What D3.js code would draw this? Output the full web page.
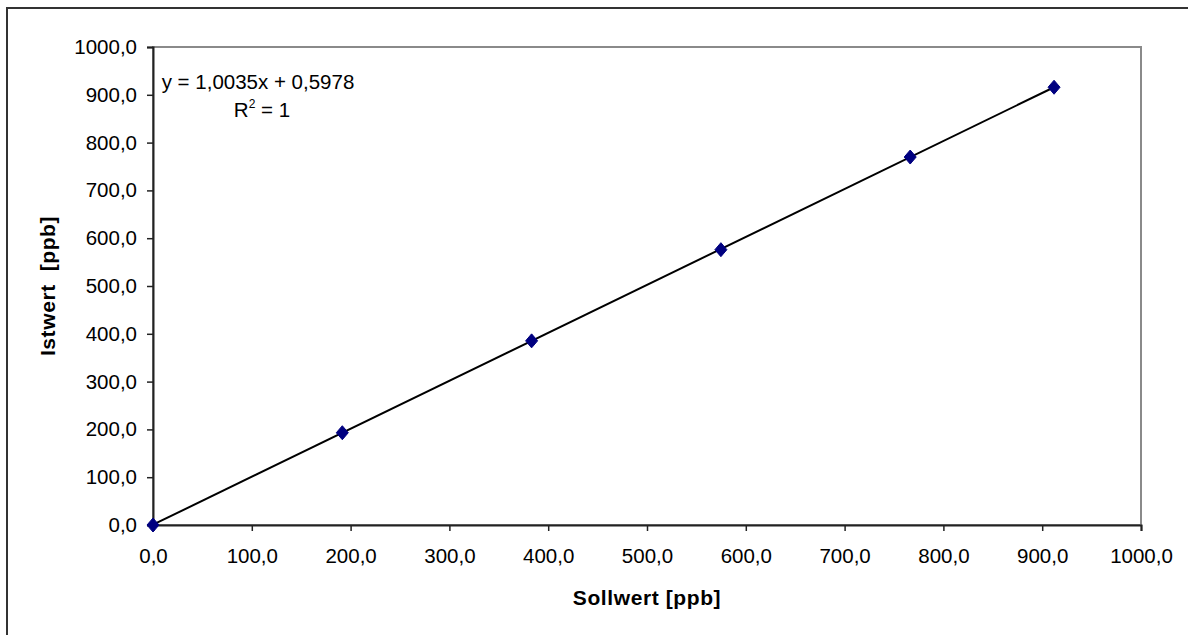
<!DOCTYPE html>
<html>
<head>
<meta charset="utf-8">
<script src="https://cdn.jsdelivr.net/npm/d3@7"></script>
<style>
  body { margin: 0; background: #fff; }
  svg { display: block; font-family: "Liberation Sans", Arial, sans-serif; }
</style>
</head>
<body>
<div class="myChart"></div>
<script>
// data
var sollwert = [0.0, 191.6, 383.2, 574.8, 766.4, 912.0];
var istwert  = [0.0, 193.0, 385.2, 576.0, 769.8, 915.8];
var xTicks = [0, 100, 200, 300, 400, 500, 600, 700, 800, 900, 1000];
var yTicks = [0, 100, 200, 300, 400, 500, 600, 700, 800, 900, 1000];
var trendSlope = 1.0035;
var trendIntercept = 0.5978;
var eqLines = ['y = 1,0035x + 0,5978', 'R', ' = 1'];

var w = 1188, h = 635;
var plot = { left: 153, right: 1141, top: 47, bottom: 525 };

var x = d3.scaleLinear().domain([0, 1000]).range([plot.left, plot.right]);
var y = d3.scaleLinear().domain([0, 1000]).range([plot.bottom, plot.top]);
var fmt = function (d) { return d3.format('.1f')(d).replace('.', ','); };

var svg = d3.select('.myChart')
            .append('svg')
            .attr('width', w)
            .attr('height', h);

// outer chart frame (only left and top edge fall inside the picture)
svg.append('rect')
    .attr('x', 7).attr('y', 8)
    .attr('width', 1200).attr('height', 650)
    .attr('fill', 'none')
    .attr('stroke', '#333')
    .attr('stroke-width', 2);

// plot area border (top / right in grey)
svg.append('rect')
    .attr('x', plot.left).attr('y', plot.top)
    .attr('width', plot.right - plot.left).attr('height', plot.bottom - plot.top)
    .attr('fill', 'none')
    .attr('stroke', '#8a8a8a')
    .attr('stroke-width', 2);

var xAxis = svg.append('g')
    .attr('transform', 'translate(0,' + plot.bottom + ')')
    .call(d3.axisBottom(x).tickValues(xTicks).tickFormat(fmt).tickSize(6).tickPadding(17));

var yAxis = svg.append('g')
    .attr('transform', 'translate(' + plot.left + ',0)')
    .call(d3.axisLeft(y).tickValues(yTicks).tickFormat(fmt).tickSize(6).tickPadding(10));

[xAxis, yAxis].forEach(function (g) {
    g.select('.domain').attr('stroke', '#222').attr('stroke-width', 2);
    g.selectAll('.tick line').attr('stroke', '#222').attr('stroke-width', 1.5);
    g.selectAll('.tick text')
        .attr('font-family', '"Liberation Sans", Arial, sans-serif')
        .attr('font-size', '20.5px')
        .attr('fill', '#000');
});

// axis titles
svg.append('text')
    .attr('x', (plot.left + plot.right) / 2)
    .attr('y', 605)
    .attr('text-anchor', 'middle')
    .attr('font-size', '21px')
    .attr('font-weight', 'bold')
    .attr('letter-spacing', '0.6px')
    .text('Sollwert [ppb]');

svg.append('text')
    .attr('transform', 'translate(55,' + (plot.top + plot.bottom) / 2 + ') rotate(-90)')
    .attr('text-anchor', 'middle')
    .attr('font-size', '21px')
    .attr('font-weight', 'bold')
    .attr('letter-spacing', '0.6px')
    .attr('xml:space', 'preserve')
    .text('Istwert  [ppb]');

// linear trendline
var xMax = d3.max(sollwert);
svg.append('line')
    .attr('x1', x(0)).attr('y1', y(trendIntercept))
    .attr('x2', x(xMax)).attr('y2', y(trendSlope * xMax + trendIntercept))
    .attr('stroke', '#000')
    .attr('stroke-width', 2);

// markers
svg.selectAll('path.pt')
    .data(sollwert)
    .enter()
    .append('path')
        .attr('class', 'pt')
        .attr('d', 'M0,-7L6,0L0,7L-6,0Z')
        .attr('transform', function (d, i) {
            return 'translate(' + x(d) + ',' + y(istwert[i]) + ')';
        })
        .attr('fill', '#000080')
        .attr('stroke', '#000080')
        .attr('stroke-width', 1);

// equation label
svg.append('text')
    .attr('font-size', '20.5px')
    .attr('text-anchor', 'middle')
    .attr('x', 258).attr('y', 89)
    .text(eqLines[0]);
var l2 = svg.append('text')
    .attr('font-size', '20.5px')
    .attr('text-anchor', 'middle')
    .attr('x', 262).attr('y', 117);
l2.append('tspan').text(eqLines[1]);
l2.append('tspan').attr('font-size', '12px').attr('dy', -9).text('2');
l2.append('tspan').attr('dy', 9).text(eqLines[2]);
</script>
</body>
</html>
